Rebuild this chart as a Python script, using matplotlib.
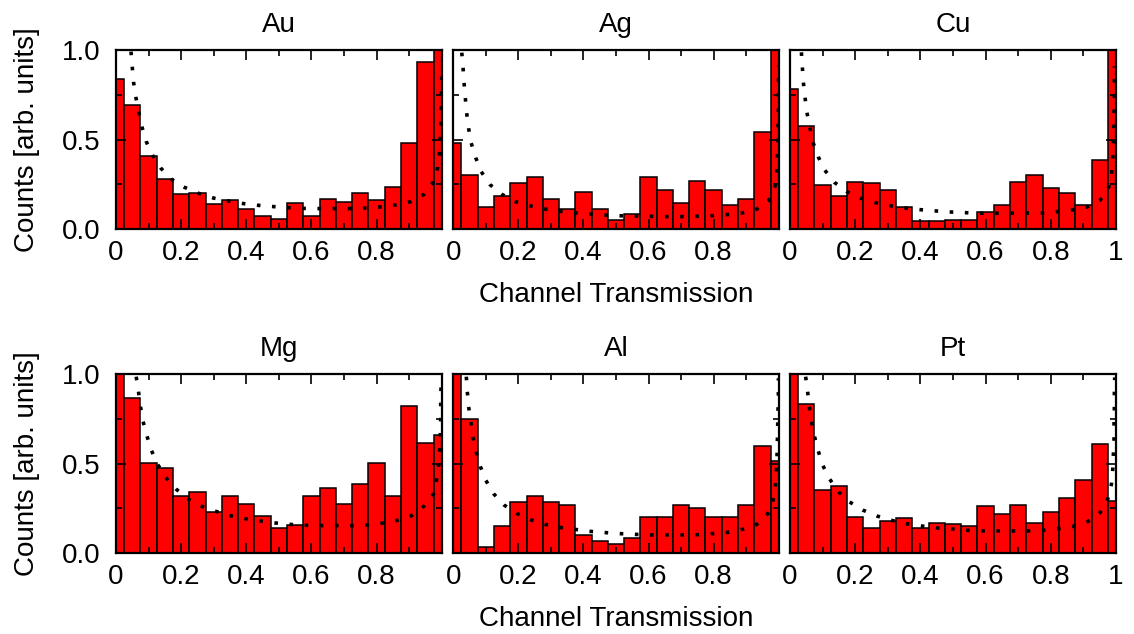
import numpy as np
import matplotlib
matplotlib.use("Agg")
import matplotlib.pyplot as plt
from matplotlib.ticker import MultipleLocator

plt.rcParams['font.family'] = ['Liberation Sans', 'DejaVu Sans']

# histogram bins: centred on 0, 0.05, ..., 1.0 (width 0.05)
bin_centers = np.linspace(0, 1, 21)
bin_width = 0.05

metals = ["Au", "Ag", "Cu", "Mg", "Al", "Pt"]

# bar heights
counts_au = [0.836, 0.693, 0.408, 0.279, 0.194, 0.201, 0.138, 0.160, 0.112, 0.074, 0.058,
             0.143, 0.073, 0.168, 0.153, 0.201, 0.160, 0.235, 0.479, 0.931, 1.0]
counts_ag = [0.481, 0.303, 0.123, 0.182, 0.255, 0.292, 0.169, 0.110, 0.206, 0.110, 0.048,
             0.086, 0.292, 0.217, 0.145, 0.266, 0.217, 0.134, 0.169, 0.543, 1.0]
counts_cu = [0.784, 0.575, 0.244, 0.184, 0.264, 0.255, 0.216, 0.121, 0.045, 0.045, 0.048,
             0.048, 0.097, 0.134, 0.261, 0.300, 0.229, 0.201, 0.134, 0.384, 1.0]
counts_mg = [1.0, 0.866, 0.501, 0.477, 0.318, 0.343, 0.227, 0.318, 0.272, 0.205, 0.138,
             0.158, 0.318, 0.365, 0.272, 0.387, 0.501, 0.318, 0.819, 0.615, 0.659]
counts_al = [1.0, 0.750, 0.035, 0.151, 0.283, 0.317, 0.283, 0.266, 0.101, 0.067, 0.050,
             0.084, 0.199, 0.199, 0.266, 0.250, 0.199, 0.199, 0.266, 0.600, 0.516]
counts_pt = [1.0, 0.831, 0.350, 0.376, 0.203, 0.140, 0.181, 0.196, 0.140, 0.169, 0.162,
             0.153, 0.261, 0.220, 0.268, 0.169, 0.227, 0.309, 0.408, 0.611, 0.292]

# dotted reference curves
curve_au_x = [0.046, 0.050, 0.054, 0.061, 0.070, 0.080, 0.093, 0.113, 0.138, 0.171, 0.210,
              0.254, 0.299, 0.346, 0.391, 0.438, 0.484, 0.530, 0.577, 0.624, 0.670, 0.717,
              0.764, 0.811, 0.858, 0.905, 0.946, 0.973, 0.988, 0.993, 0.996, 0.998, 0.999, 1.0]
curve_au_y = [0.991, 0.903, 0.819, 0.736, 0.652, 0.568, 0.488, 0.410, 0.339, 0.277, 0.233,
              0.199, 0.173, 0.156, 0.142, 0.132, 0.125, 0.119, 0.115, 0.114, 0.114, 0.114,
              0.117, 0.123, 0.134, 0.153, 0.194, 0.259, 0.343, 0.426, 0.510, 0.596, 0.70, 0.85]
curve_ag_x = [0.026, 0.030, 0.033, 0.037, 0.041, 0.047, 0.055, 0.069, 0.086, 0.112, 0.148,
              0.189, 0.234, 0.280, 0.326, 0.372, 0.418, 0.466, 0.512, 0.559, 0.607, 0.654,
              0.700, 0.747, 0.793, 0.840, 0.887, 0.932, 0.969, 0.989, 0.994, 0.996, 0.997,
              0.998, 0.999, 0.999, 0.999, 1.0]
curve_ag_y = [0.985, 0.900, 0.818, 0.732, 0.649, 0.563, 0.480, 0.398, 0.320, 0.249, 0.195,
              0.154, 0.130, 0.112, 0.099, 0.091, 0.084, 0.078, 0.074, 0.072, 0.071, 0.069,
              0.069, 0.071, 0.074, 0.080, 0.089, 0.110, 0.158, 0.240, 0.322, 0.405, 0.491,
              0.574, 0.658, 0.742, 0.827, 0.914]
curve_cu_x = [0.035, 0.038, 0.041, 0.046, 0.052, 0.061, 0.071, 0.087, 0.107, 0.136, 0.174,
              0.216, 0.262, 0.307, 0.353, 0.399, 0.446, 0.493, 0.540, 0.586, 0.633, 0.680,
              0.727, 0.773, 0.819, 0.865, 0.911, 0.952, 0.978, 0.987, 0.990, 0.992, 0.993,
              0.994, 0.995, 0.995, 0.995]
curve_cu_y = [0.987, 0.903, 0.819, 0.736, 0.650, 0.566, 0.482, 0.402, 0.328, 0.261, 0.209,
              0.173, 0.147, 0.130, 0.117, 0.108, 0.101, 0.095, 0.091, 0.088, 0.088, 0.088,
              0.089, 0.089, 0.097, 0.106, 0.123, 0.162, 0.235, 0.318, 0.402, 0.486, 0.572,
              0.657, 0.741, 0.825, 0.909]
curve_mg_x = [0.062, 0.069, 0.075, 0.083, 0.095, 0.109, 0.128, 0.152, 0.184, 0.219, 0.260,
              0.306, 0.350, 0.396, 0.442, 0.488, 0.534, 0.582, 0.629, 0.675, 0.722, 0.769,
              0.816, 0.863, 0.908, 0.944, 0.976, 0.985, 0.991, 0.994, 0.996, 0.997, 0.997,
              0.998]
curve_mg_y = [0.985, 0.903, 0.819, 0.736, 0.654, 0.572, 0.495, 0.423, 0.358, 0.304, 0.263,
              0.233, 0.209, 0.192, 0.179, 0.168, 0.160, 0.155, 0.153, 0.153, 0.153, 0.156,
              0.166, 0.182, 0.209, 0.259, 0.333, 0.415, 0.499, 0.583, 0.669, 0.754, 0.840,
              0.926]
curve_al_x = [0.040, 0.043, 0.047, 0.054, 0.060, 0.070, 0.083, 0.100, 0.124, 0.156, 0.194,
              0.237, 0.282, 0.327, 0.374, 0.420, 0.467, 0.514, 0.561, 0.608, 0.655, 0.702,
              0.748, 0.795, 0.842, 0.888, 0.933, 0.966, 0.983, 0.990, 0.993, 0.995, 0.996,
              0.997, 0.998, 0.999, 0.999]
curve_al_y = [0.985, 0.903, 0.818, 0.732, 0.650, 0.566, 0.484, 0.406, 0.331, 0.268, 0.222,
              0.186, 0.160, 0.143, 0.132, 0.121, 0.114, 0.108, 0.104, 0.101, 0.101, 0.101,
              0.102, 0.108, 0.115, 0.132, 0.160, 0.218, 0.296, 0.380, 0.464, 0.549, 0.635,
              0.719, 0.804, 0.890, 0.976]
curve_pt_x = [0.048, 0.054, 0.059, 0.066, 0.075, 0.087, 0.101, 0.122, 0.149, 0.183, 0.223,
              0.266, 0.312, 0.357, 0.403, 0.450, 0.496, 0.543, 0.589, 0.636, 0.682, 0.729,
              0.776, 0.823, 0.869, 0.913, 0.951, 0.975, 0.986, 0.990, 0.992, 0.994, 0.994,
              0.995, 0.995, 0.996]
curve_pt_y = [0.985, 0.903, 0.819, 0.734, 0.652, 0.568, 0.488, 0.412, 0.341, 0.285, 0.240,
              0.207, 0.182, 0.164, 0.151, 0.140, 0.134, 0.127, 0.123, 0.123, 0.123, 0.123,
              0.127, 0.136, 0.149, 0.175, 0.225, 0.302, 0.384, 0.467, 0.553, 0.639, 0.724,
              0.810, 0.896, 0.981]

counts = [counts_au, counts_ag, counts_cu, counts_mg, counts_al, counts_pt]
curves = [(curve_au_x, curve_au_y), (curve_ag_x, curve_ag_y), (curve_cu_x, curve_cu_y),
          (curve_mg_x, curve_mg_y), (curve_al_x, curve_al_y), (curve_pt_x, curve_pt_y)]

fig = plt.figure(figsize=(11.34, 6.34), dpi=100)

W, H = 1134, 634
col_left = [116, 453.3, 790]
col_width = [325.7, 325.4, 326]
row_top = [50, 374]
row_height = 179

fs = 20
axes = []
for i, name in enumerate(metals):
    r, c = divmod(i, 3)
    ax = fig.add_axes([col_left[c] / W, 1 - (row_top[r] + row_height) / H,
                       col_width[c] / W, row_height / H])
    ax.bar(bin_centers, counts[i], width=bin_width, color='#ff0000',
           edgecolor='black', linewidth=1.1, zorder=1)
    cx, cy = curves[i]
    ax.plot(cx, cy, color='black', lw=2.6, linestyle=(0, (1, 3.2)),
            dash_capstyle='butt', zorder=3)
    ax.set_xlim(0, 1)
    ax.set_ylim(0, 1)
    ax.set_title(name, fontsize=fs, pad=13)

    if c == 2:
        ax.set_xticks([0, 0.2, 0.4, 0.6, 0.8, 1.0], ["0", "0.2", "0.4", "0.6", "0.8", "1"])
    else:
        ax.set_xticks([0, 0.2, 0.4, 0.6, 0.8], ["0", "0.2", "0.4", "0.6", "0.8"])
    ax.xaxis.set_minor_locator(MultipleLocator(0.1))
    ax.set_yticks([0, 0.5, 1.0], ["0.0", "0.5", "1.0"])
    ax.yaxis.set_minor_locator(MultipleLocator(0.25))
    if c != 0:
        ax.tick_params(axis='y', labelleft=False)

    ax.tick_params(which='both', direction='in', top=True, right=True, width=1.2,
                   labelsize=fs, zorder=5)
    ax.tick_params(axis='x', which='major', length=7, pad=8)
    ax.tick_params(axis='y', which='major', length=7, pad=11)
    ax.tick_params(which='minor', length=4)
    for s in ax.spines.values():
        s.set_linewidth(1.6)
        s.set_zorder(6)
    axes.append(ax)

# shared labels
for r in range(2):
    yc = 1 - (row_top[r] + row_height / 2) / H
    fig.text(27 / W, yc, "Counts [arb. units]", rotation=90, ha='center', va='center',
             fontsize=fs)
    fig.text(616 / W, 1 - (row_top[r] + 245) / H, "Channel Transmission",
             ha='center', va='center', fontsize=fs)

fig.savefig("out.png", dpi=100)
